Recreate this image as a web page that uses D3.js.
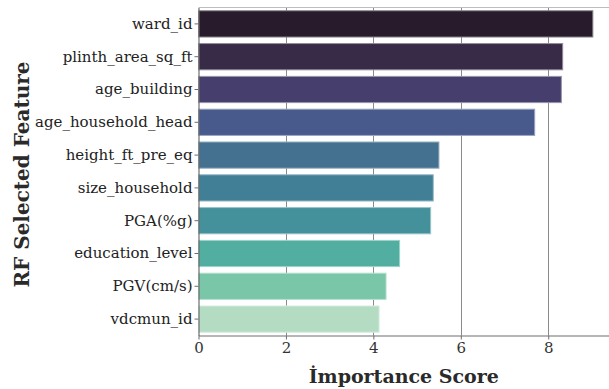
<!DOCTYPE html>
<html>
<head>
<meta charset="utf-8">
<script src="https://cdn.jsdelivr.net/npm/d3@7"></script>
<style>
  html, body { margin: 0; padding: 0; background: #fff; }
  svg { display: block; font-family: "DejaVu Serif", serif; }
</style>
</head>
<body>
<svg id="chart" width="609" height="389"></svg>
<script>
// Random-forest feature importances, sorted high to low
const features = [
  "ward_id", "plinth_area_sq_ft", "age_building", "age_household_head",
  "height_ft_pre_eq", "size_household", "PGA(%g)", "education_level",
  "PGV(cm/s)", "vdcmun_id"
];
const importance = [9.02, 8.33, 8.30, 7.69, 5.50, 5.37, 5.31, 4.60, 4.29, 4.13];
const xTicks = [0, 2, 4, 6, 8];
const barColors = [
  "#271b2c", "#372b48", "#463e6d", "#48598b", "#43718f",
  "#417f97", "#44919b", "#52aea1", "#79c6a9", "#b4dcc3"
];

const svg = d3.select("#chart");
const plot = { left: 198.5, right: 630, top: 7.5, bottom: 335.5 };

const x = d3.scaleLinear().domain([0, 9.87]).range([plot.left, plot.right]);
const y = d3.scaleBand().domain(features).range([plot.top, plot.bottom])
  .paddingInner(0.2).paddingOuter(0.1);

// vertical grid lines behind the bars
svg.append("g").selectAll("line").data(xTicks.filter(d => d > 0)).join("line")
  .attr("x1", d => Math.round(x(d)) + 0.5).attr("x2", d => Math.round(x(d)) + 0.5)
  .attr("y1", plot.top).attr("y2", plot.bottom)
  .attr("stroke", "#8a8a8a").attr("stroke-width", 1);

// top frame line
svg.append("line")
  .attr("x1", plot.left).attr("x2", 609).attr("y1", plot.top).attr("y2", plot.top)
  .attr("stroke", "#bdbdbd").attr("stroke-width", 1.2);

// bars
svg.append("g").selectAll("rect").data(features).join("rect")
  .attr("x", x(0))
  .attr("y", d => y(d))
  .attr("width", (d, i) => x(importance[i]) - x(0))
  .attr("height", y.bandwidth())
  .attr("fill", (d, i) => barColors[i])
  .attr("stroke", (d, i) => d3.interpolateRgb(barColors[i], "#ffffff")(0.45))
  .attr("stroke-width", 1);

// x axis
const xAxis = svg.append("g")
  .attr("transform", `translate(0,${plot.bottom})`)
  .call(d3.axisBottom(x).tickValues(xTicks).tickSize(4).tickPadding(3).tickSizeOuter(0));
xAxis.select(".domain").attr("stroke", "#6e6e6e").attr("stroke-width", 1.2);
xAxis.selectAll(".tick line").attr("stroke", "#6e6e6e");
xAxis.selectAll(".tick text")
  .attr("font-family", "DejaVu Serif").attr("font-size", 15).attr("fill", "#333");

// y axis
const yAxis = svg.append("g")
  .attr("transform", `translate(${plot.left},0)`)
  .call(d3.axisLeft(y).tickSize(4).tickPadding(2).tickSizeOuter(0));
yAxis.select(".domain").attr("stroke", "#6e6e6e").attr("stroke-width", 1.2);
yAxis.selectAll(".tick line").attr("stroke", "#6e6e6e");
yAxis.selectAll(".tick text")
  .attr("font-family", "DejaVu Serif").attr("font-size", 15).attr("fill", "#222");

// axis titles
svg.append("text")
  .attr("x", (plot.left + 609) / 2).attr("y", 383)
  .attr("text-anchor", "middle")
  .attr("font-family", "DejaVu Serif").attr("font-weight", "bold")
  .attr("font-size", 19).attr("fill", "#2a2a2a")
  .text("İmportance Score");

svg.append("text")
  .attr("transform", `translate(29,${(plot.top + plot.bottom) / 2 + 3}) rotate(-90)`)
  .attr("text-anchor", "middle")
  .attr("font-family", "DejaVu Serif").attr("font-weight", "bold")
  .attr("font-size", 20).attr("fill", "#2a2a2a")
  .text("RF Selected Feature");
</script>
</body>
</html>
